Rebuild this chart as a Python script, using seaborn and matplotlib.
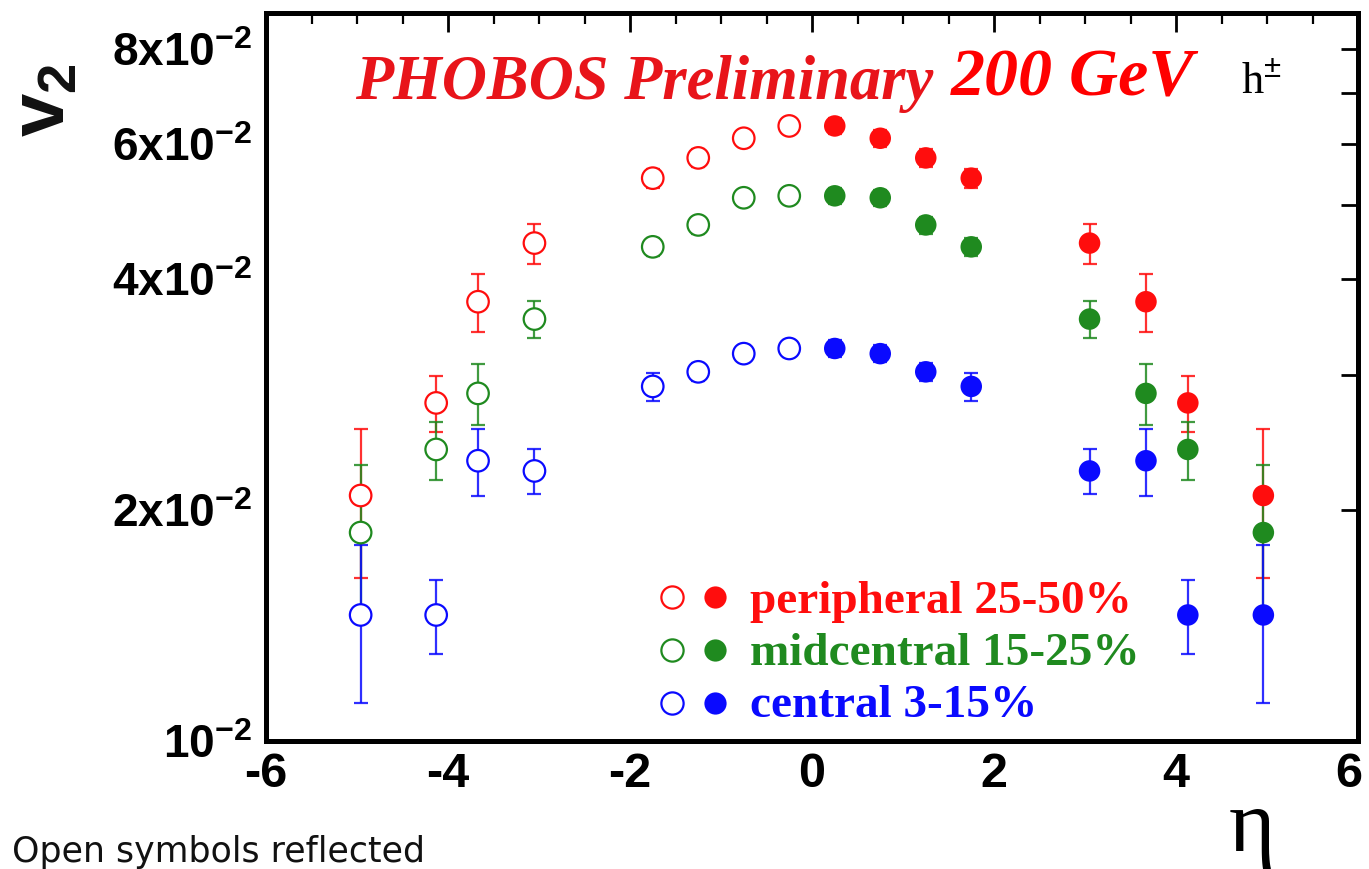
import matplotlib
matplotlib.use("Agg")
import matplotlib.pyplot as plt
import numpy as np
import pandas as pd
import seaborn as sns
from matplotlib.ticker import FixedLocator, FixedFormatter, MultipleLocator, NullLocator
from matplotlib.lines import Line2D
from matplotlib.transforms import ScaledTranslation

# pseudorapidity bin centres (positive side, measured)
eta = [0.25, 0.75, 1.25, 1.75, 3.05, 3.67, 4.13, 4.96]

# elliptic flow v2 of charged hadrons per centrality class
v2_peripheral = [0.0634, 0.0611, 0.0576, 0.0542, 0.0446, 0.0374, 0.0276, 0.0209]
err_peripheral = [0.0015, 0.0015, 0.0015, 0.0015, 0.0027, 0.0033, 0.0023, 0.0046]
v2_midcentral = [0.0514, 0.0511, 0.0471, 0.0441, 0.0355, 0.0284, 0.0240, 0.0187]
err_midcentral = [0.0012, 0.0012, 0.0012, 0.0012, 0.0020, 0.0026, 0.0021, 0.0042]
v2_central = [0.0325, 0.0320, 0.0303, 0.0290, 0.0225, 0.0232, 0.0146, 0.0146]
err_central = [0.0008, 0.0008, 0.0008, 0.0012, 0.0015, 0.0023, 0.0016, 0.0034]

centralities = ["peripheral 25-50%", "midcentral 15-25%", "central 3-15%"]
colors = ["#ff0d0d", "#1f8a1f", "#0a0aff"]

xtick_values = [-6, -4, -2, 0, 2, 4, 6]
xtick_labels = ["-6", "-4", "-2", "0", "2", "4", "6"]
ytick_values = [0.01, 0.02, 0.03, 0.04, 0.05, 0.06, 0.07, 0.08]
ytick_labels = [r"$\mathbf{10^{-2}}$", r"$\mathbf{2x10^{-2}}$", "",
                r"$\mathbf{4x10^{-2}}$", "", r"$\mathbf{6x10^{-2}}$", "",
                r"$\mathbf{8x10^{-2}}$"]

series = {
    centralities[0]: (v2_peripheral, err_peripheral),
    centralities[1]: (v2_midcentral, err_midcentral),
    centralities[2]: (v2_central, err_central),
}
rows = []
for name, (vals, errs) in series.items():
    for e, v, s in zip(eta, vals, errs):
        rows.append(dict(centrality=name, eta=e, v2=v, err=s, side="measured"))
        rows.append(dict(centrality=name, eta=-e, v2=v, err=s, side="reflected"))
df = pd.DataFrame(rows)
palette = dict(zip(centralities, colors))

sns.set_theme(style="white")
plt.rcParams["font.family"] = ["Liberation Sans", "DejaVu Sans"]
plt.rcParams["mathtext.fontset"] = "custom"
plt.rcParams["mathtext.bf"] = "Liberation Sans:bold"
plt.rcParams["mathtext.rm"] = "Liberation Sans"

fig = plt.figure(figsize=(13.69, 8.69), dpi=100)
ax = fig.add_axes([266 / 1369, 1 - 741 / 869, 1092 / 1369, 728 / 869])

# error bars for both the measured and the mirrored points
for name in centralities:
    sub = df[df.centrality == name]
    ax.errorbar(sub.eta, sub.v2, yerr=sub.err, fmt="none", ecolor=palette[name],
                elinewidth=1.6, capsize=5, capthick=1.6, zorder=2, alpha=0.85)

# filled symbols: measured side
sns.scatterplot(data=df[df.side == "measured"], x="eta", y="v2", hue="centrality",
                palette=palette, s=240, linewidth=0, legend=False, ax=ax, zorder=4)

# open symbols: reflected side
n_before = len(ax.collections)
sns.scatterplot(data=df[df.side == "reflected"], x="eta", y="v2", hue="centrality",
                palette=palette, s=240, legend=False, ax=ax, zorder=4)
for coll in ax.collections[n_before:]:
    fc = coll.get_facecolors()
    coll.set_edgecolors(fc)
    coll.set_facecolors("white")
    coll.set_linewidths(1.6)

ax.set_yscale("log")
ax.set_xlim(-6, 6)
ax.set_ylim(0.01, 0.089)
ax.yaxis.set_major_locator(FixedLocator(ytick_values))
ax.yaxis.set_major_formatter(FixedFormatter(ytick_labels))
ax.yaxis.set_minor_locator(NullLocator())
ax.set_xticks(xtick_values)
ax.set_xticklabels(xtick_labels)
ax.xaxis.set_minor_locator(MultipleLocator(0.5))
ax.set_xlabel("")
ax.set_ylabel("")

ax.tick_params(which="both", direction="in", top=True, right=True, colors="black")
ax.tick_params(axis="y", which="major", length=12, width=2, labelsize=33, pad=10)
ax.tick_params(axis="x", which="major", length=14, width=2, pad=8)
ax.tick_params(axis="x", which="minor", length=8, width=1.6)
for lab in ax.get_xticklabels():
    lab.set_fontfamily(["Liberation Sans"])
    lab.set_fontweight("bold")
    lab.set_fontsize(35)
# keep the rightmost label inside the canvas
last = ax.get_xticklabels()[-1]
last.set_transform(last.get_transform() + ScaledTranslation(-7 / 72, 0, fig.dpi_scale_trans))
for sp in ax.spines.values():
    sp.set_linewidth(3.6)
    sp.set_color("black")

# in-plot annotations
serif = ["Liberation Serif", "DejaVu Serif"]
ax.text(0.0815, 0.882, "PHOBOS Preliminary", transform=ax.transAxes, color="#e8141a",
        fontfamily=serif, fontweight="bold", fontstyle="italic", fontsize=45, va="baseline")
ax.text(0.627, 0.886, "200 GeV", transform=ax.transAxes, color="#ff0000",
        fontfamily=serif, fontweight="bold", fontstyle="italic", fontsize=49, va="baseline")
ax.text(0.893, 0.888, "h$^{\\pm}$", transform=ax.transAxes, color="black",
        fontfamily=serif, fontsize=32, va="baseline")

# legend: open + filled symbol followed by coloured label
leg_marker_y = [0.198, 0.125, 0.052]
leg_text_y = [0.176, 0.104, 0.033]
for name, c, my, ty in zip(centralities, colors, leg_marker_y, leg_text_y):
    ax.add_line(Line2D([0.372], [my], transform=ax.transAxes, marker="o", markersize=16,
                       markerfacecolor="white", markeredgecolor=c, markeredgewidth=1.6,
                       linestyle="none", clip_on=False))
    ax.add_line(Line2D([0.411], [my], transform=ax.transAxes, marker="o", markersize=16,
                       markerfacecolor=c, markeredgewidth=0, linestyle="none", clip_on=False))
    ax.text(0.443, ty, name, transform=ax.transAxes, color=c, fontfamily=serif,
            fontweight="bold", fontsize=34, va="baseline")

# axis titles
fig.text(44 / 1369, 1 - 100 / 869, r"$\mathbf{v_2}$", rotation=90, ha="center",
         va="center", fontsize=56, color="#111111")
fig.text(1252 / 1369, 1 - 830 / 869, "η", ha="center", va="center", fontsize=64,
         fontfamily=serif, color="black")
fig.text(12 / 1369, 1 - 862 / 869, "Open symbols reflected", ha="left", va="baseline",
         fontsize=25, fontfamily=["DejaVu Sans"], color="#111111")

fig.savefig("out.png", dpi=100)
